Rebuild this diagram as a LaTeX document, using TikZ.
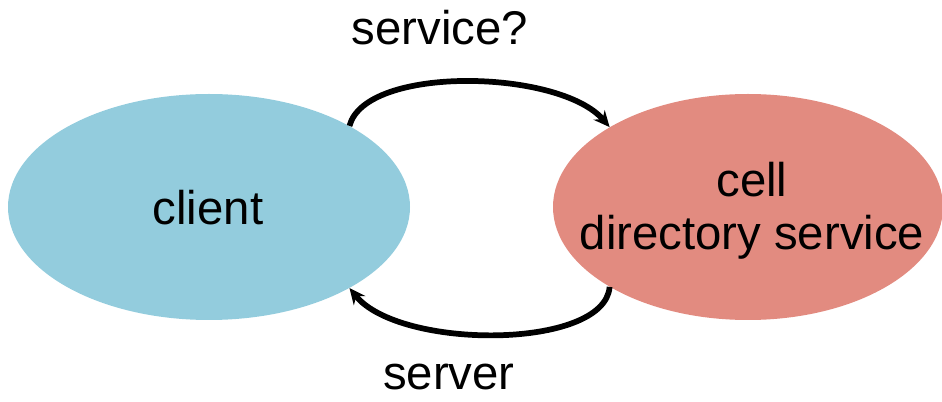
\documentclass[tikz,border=0pt]{standalone}
\usepackage{fontspec}
\setmainfont{Liberation Sans}
\usetikzlibrary{shapes.geometric,arrows.meta}
\definecolor{clientblue}{RGB}{147,204,221}
\definecolor{cellred}{RGB}{226,139,128}
\tikzset{
  blob/.style={ellipse, inner sep=0pt, draw=none},
  word/.style={anchor=base, inner sep=0pt, align=center,
    font=\fontsize{35.5}{39.75}\selectfont},
  flow/.style={line width=4.3pt,
    -{Stealth[length=12pt,width=11pt,inset=4pt]}},
}
\begin{document}
\begin{tikzpicture}[x=0.75pt,y=-0.75pt]
  \useasboundingbox (0,0) rectangle (942,402);
  % the two parties
  \node[blob, fill=clientblue, minimum width=402*0.75pt, minimum height=226*0.75pt]
    (client) at (209,207) {};
  \node[blob, fill=cellred, minimum width=390*0.75pt, minimum height=226*0.75pt]
    (cds) at (748,207) {};
  \node[word] (clientlabel) at (208,225) {client};
  % base of a two-line node sits on its last line
  \node[word] (cdslabel) at (752,250) {cell\\directory service};
  % request and reply
  \draw[flow] (client.30) .. controls +(16,-61) and +(-50,-58) .. (cds.150);
  \draw[flow] (cds.210) .. controls +(-5,63) and +(50,62) .. (client.-30);
  \node[word] (asklabel) at (440,45) {service?};
  \node[word] (replylabel) at (449,390) {server};
\end{tikzpicture}
\end{document}
